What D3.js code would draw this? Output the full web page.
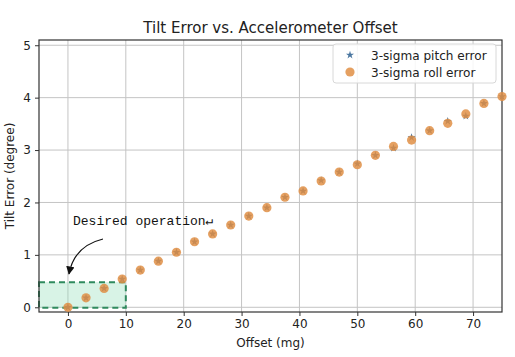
<!DOCTYPE html>
<html>
<head>
<meta charset="utf-8">
<script src="https://cdn.jsdelivr.net/npm/d3@7"></script>
<style>
  html, body { margin: 0; padding: 0; background: #fff; }
  svg { display: block; }
</style>
</head>
<body>
<svg id="chart" width="515" height="357"></svg>
<script>
// ---- Data ----
const offsets = [0, 3.125, 6.25, 9.375, 12.5, 15.625, 18.75, 21.875, 25, 28.125, 31.25, 34.375,
  37.5, 40.625, 43.75, 46.875, 50, 53.125, 56.25, 59.375, 62.5, 65.625, 68.75, 71.875, 75];
const rollError = [0.00, 0.18, 0.36, 0.54, 0.71, 0.88, 1.05, 1.25, 1.40, 1.57, 1.74, 1.90,
  2.10, 2.22, 2.41, 2.58, 2.72, 2.90, 3.07, 3.19, 3.37, 3.51, 3.69, 3.89, 4.02];
const pitchError = [0.00, 0.18, 0.36, 0.54, 0.71, 0.88, 1.05, 1.25, 1.40, 1.57, 1.74, 1.90,
  2.10, 2.22, 2.42, 2.58, 2.74, 2.90, 3.04, 3.24, 3.37, 3.55, 3.65, 3.89, 4.02];
const xTicks = [0, 10, 20, 30, 40, 50, 60, 70];
const yTicks = [0, 1, 2, 3, 4, 5];
const seriesNames = ["3-sigma pitch error", "3-sigma roll error"];
const titleText = "Tilt Error vs. Accelerometer Offset";
const xLabel = "Offset (mg)";
const yLabel = "Tilt Error (degree)";
const annotationText = "Desired operation\u21B5";
const desiredRegion = { x0: -5, x1: 10, y0: -0.01, y1: 0.48 };

// ---- Layout ----
const svg = d3.select("#chart");
const L = 39, R = 502, T = 40, B = 312;
const x = d3.scaleLinear().domain([-5, 75]).range([L, R]);
const y = d3.scaleLinear().domain([-0.09, 5.1]).range([B, T]);
const font = "'DejaVu Sans', sans-serif";

// grid
const g = svg.append("g");
g.selectAll(".gx").data(xTicks).enter().append("line")
  .attr("x1", d => x(d)).attr("x2", d => x(d)).attr("y1", T).attr("y2", B)
  .attr("stroke", "#c4c4c4").attr("stroke-width", 1);
g.selectAll(".gy").data(yTicks).enter().append("line")
  .attr("x1", L).attr("x2", R).attr("y1", d => y(d)).attr("y2", d => y(d))
  .attr("stroke", "#c4c4c4").attr("stroke-width", 1);

// desired region
svg.append("rect")
  .attr("x", x(desiredRegion.x0)).attr("y", y(desiredRegion.y1))
  .attr("width", x(desiredRegion.x1) - x(desiredRegion.x0))
  .attr("height", y(desiredRegion.y0) - y(desiredRegion.y1))
  .attr("fill", "#8fdcb8").attr("fill-opacity", 0.35)
  .attr("stroke", "#2f8a5e").attr("stroke-width", 2).attr("stroke-dasharray", "6,4");

// axes
const xAxis = d3.axisBottom(x).tickValues(xTicks).tickSize(4).tickPadding(3).tickFormat(d3.format("d"));
const yAxis = d3.axisLeft(y).tickValues(yTicks).tickSize(4).tickPadding(4).tickFormat(d3.format("d"));
const gx = svg.append("g").attr("transform", `translate(0,${B})`).call(xAxis);
const gy = svg.append("g").attr("transform", `translate(${L},0)`).call(yAxis);
[gx, gy].forEach(a => {
  a.select(".domain").remove();
  a.selectAll("line").attr("stroke", "#333");
  a.selectAll("text").attr("font-family", font).attr("font-size", 12).attr("fill", "#222");
});

// spines
svg.append("rect").attr("x", L).attr("y", T).attr("width", R - L).attr("height", B - T)
  .attr("fill", "none").attr("stroke", "#333").attr("stroke-width", 1.2);

// pitch stars
svg.append("g").selectAll("path").data(offsets).enter().append("path")
  .attr("d", d3.symbol().type(d3.symbolStar).size(20))
  .attr("transform", (d, i) => `translate(${x(d)},${y(pitchError[i])})`)
  .attr("fill", "#3f6e9a");

// roll circles
svg.append("g").selectAll("circle").data(offsets).enter().append("circle")
  .attr("cx", d => x(d)).attr("cy", (d, i) => y(rollError[i])).attr("r", 4.6)
  .attr("fill", "#e08f45").attr("fill-opacity", 0.85);

// title & labels
svg.append("text").attr("x", (L + R) / 2).attr("y", 33).attr("text-anchor", "middle")
  .attr("font-family", font).attr("font-size", 15).attr("fill", "#222").text(titleText);
svg.append("text").attr("x", (L + R) / 2).attr("y", 347).attr("text-anchor", "middle")
  .attr("font-family", font).attr("font-size", 12).attr("fill", "#222").text(xLabel);
svg.append("text").attr("transform", `translate(14,${(T + B) / 2}) rotate(-90)`)
  .attr("text-anchor", "middle").attr("font-family", font).attr("font-size", 12)
  .attr("fill", "#222").text(yLabel);

// legend
const lg = svg.append("g");
lg.append("rect").attr("x", 333).attr("y", 44).attr("width", 163).attr("height", 39).attr("rx", 3)
  .attr("fill", "#fff").attr("fill-opacity", 0.85).attr("stroke", "#d8d8d8");
lg.append("path").attr("d", d3.symbol().type(d3.symbolStar).size(20))
  .attr("transform", "translate(350,55)").attr("fill", "#4a76a0");
lg.append("circle").attr("cx", 350).attr("cy", 72).attr("r", 4.6)
  .attr("fill", "#e08f45").attr("fill-opacity", 0.85);
lg.selectAll("text").data(seriesNames).enter().append("text")
  .attr("x", 371).attr("y", (d, i) => 59.5 + i * 17)
  .attr("font-family", font).attr("font-size", 12.1).attr("fill", "#222").text(d => d);

// annotation
svg.append("text").attr("x", 73).attr("y", 225)
  .attr("font-family", "'Liberation Mono', monospace").attr("font-size", 13)
  .attr("fill", "#111").text(annotationText);
const defs = svg.append("defs");
defs.append("marker").attr("id", "ah").attr("viewBox", "0 0 10 10").attr("refX", 9).attr("refY", 5)
  .attr("markerWidth", 7).attr("markerHeight", 7).attr("orient", "auto")
  .append("path").attr("d", "M0,0 L10,5 L0,10 Z").attr("fill", "#111");
svg.append("path").attr("d", "M103,239 Q74,246 69,274")
  .attr("fill", "none").attr("stroke", "#111").attr("stroke-width", 1.2)
  .attr("marker-end", "url(#ah)");
</script>
</body>
</html>
